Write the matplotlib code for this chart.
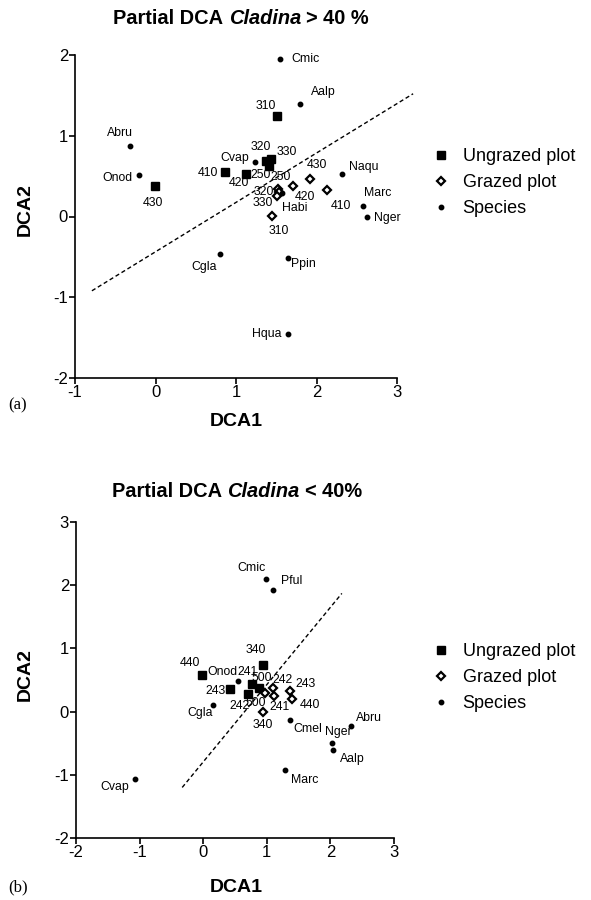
import matplotlib.pyplot as plt
from matplotlib.lines import Line2D

plt.rcParams['font.family'] = ['Liberation Sans', 'DejaVu Sans']
plt.rcParams['axes.unicode_minus'] = False

# ---- panel (a): Cladina > 40 % ----
a_ung_lab = ['310', '320', '330', '250', '410', '420', '430']
a_ung_x = [1.51, 1.37, 1.43, 1.41, 0.86, 1.13, -0.01]
a_ung_y = [1.24, 0.69, 0.71, 0.62, 0.55, 0.53, 0.38]
a_ung_off = [(-11, 10), (-5, 14), (16, 7), (-8, -9), (-17, -1), (-8, -9), (-2, -17)]

a_gra_lab = ['250', '320', '330', '310', '420', '430', '410']
a_gra_x = [1.52, 1.53, 1.51, 1.45, 1.71, 1.92, 2.13]
a_gra_y = [0.335, 0.30, 0.25, 0.01, 0.38, 0.47, 0.33]
a_gra_off = [(3, 12), (-15, 0), (-14, -7), (7, -15), (12, -11), (7, 14), (14, -16)]

a_sp_lab = ['Cmic', 'Aalp', 'Abru', 'Onod', 'Cvap', 'Naqu', 'Marc', 'Nger',
            'Habi', 'Cgla', 'Ppin', 'Hqua']
a_sp_x = [1.55, 1.80, -0.32, -0.21, 1.23, 2.32, 2.58, 2.63, 1.57, 0.80, 1.64, 1.64]
a_sp_y = [1.95, 1.39, 0.87, 0.52, 0.68, 0.53, 0.13, 0.00, 0.29, -0.46, -0.51, -1.45]
a_sp_off = [(25, 0), (23, 12), (-10, 13), (-21, -3), (-20, 4), (21, 7), (14, 13),
            (20, -1), (13, -15), (-16, -13), (16, -6), (-21, 0)]

a_line_x = [-0.79, 3.2]
a_line_y = [-0.92, 1.52]

# ---- panel (b): Cladina < 40 % ----
b_ung_lab = ['340', '440', '243', '241', '500', '242']
b_ung_x = [0.94, -0.02, 0.42, 0.76, 0.88, 0.70]
b_ung_y = [0.73, 0.58, 0.35, 0.43, 0.38, 0.28]
b_ung_off = [(-7, 15), (-12, 12), (-14, -2), (-4, 12), (3, 10), (-8, -12)]

b_gra_lab = ['242', '243', '440', '241', '500', '340']
b_gra_x = [1.105, 1.36, 1.40, 1.12, 0.97, 0.94]
b_gra_y = [0.374, 0.32, 0.20, 0.24, 0.30, 0.0]
b_gra_off = [(9, 8), (16, 7), (18, -6), (5, -11), (-9, -10), (0, -13)]

b_sp_lab = ['Cmic', 'Pful', 'Onod', 'Cgla', 'Cmel', 'Abru', 'Nger', 'Aalp',
            'Marc', 'Cvap']
b_sp_x = [0.99, 1.10, 0.54, 0.16, 1.36, 2.33, 2.03, 2.04, 1.29, -1.08]
b_sp_y = [2.10, 1.93, 0.48, 0.11, -0.13, -0.22, -0.49, -0.60, -0.93, -1.07]
b_sp_off = [(-15, 11), (19, 9), (-15, 9), (-13, -8), (18, -9), (18, 8), (6, 11),
            (19, -9), (19, -10), (-20, -8)]

b_line_x = [-0.33, 2.18]
b_line_y = [-1.2, 1.87]

fig = plt.figure(figsize=(5.91, 9), dpi=100)


def add_ax(left, top, right, bottom):
    return fig.add_axes([left / 591, 1 - bottom / 900,
                         (right - left) / 591, (bottom - top) / 900])


def label_points(ax, xs, ys, labs, offs):
    for x, y, s, (dx, dy) in zip(xs, ys, labs, offs):
        ax.annotate(s, (x, y), xytext=(dx, dy), textcoords='offset pixels',
                    ha='center', va='center', fontsize=8.8)


def panel(ax, ux, uy, ul, uo, gx, gy, gl, go, sx, sy, sl, so, lx, ly):
    ax.plot(lx, ly, ls=(0, (3, 2)), color='black', lw=1, clip_on=False)
    ax.plot(ux, uy, 's', color='black', ms=5.5, ls='none', clip_on=False)
    ax.plot(gx, gy, 'D', mfc='white', mec='black', mew=1.6, ms=4.5,
            ls='none', clip_on=False)
    ax.plot(sx, sy, 'o', color='black', ms=3.2, ls='none', clip_on=False)
    label_points(ax, ux, uy, ul, uo)
    label_points(ax, gx, gy, gl, go)
    label_points(ax, sx, sy, sl, so)
    for side in ['top', 'right']:
        ax.spines[side].set_visible(False)
    for side in ['left', 'bottom']:
        ax.spines[side].set_linewidth(1.2)
    ax.tick_params(direction='out', length=4, width=1.2, labelsize=12, pad=1)


ax1 = add_ax(75, 55, 397, 378)
panel(ax1, a_ung_x, a_ung_y, a_ung_lab, a_ung_off,
      a_gra_x, a_gra_y, a_gra_lab, a_gra_off,
      a_sp_x, a_sp_y, a_sp_lab, a_sp_off, a_line_x, a_line_y)
ax1.set_xlim(-1, 3)
ax1.set_ylim(-2, 2)
ax1.set_xticks([-1, 0, 1, 2, 3])
ax1.set_yticks([-2, -1, 0, 1, 2])

ax2 = add_ax(76, 522, 394, 838)
panel(ax2, b_ung_x, b_ung_y, b_ung_lab, b_ung_off,
      b_gra_x, b_gra_y, b_gra_lab, b_gra_off,
      b_sp_x, b_sp_y, b_sp_lab, b_sp_off, b_line_x, b_line_y)
ax2.set_xlim(-2, 3)
ax2.set_ylim(-2, 3)
ax2.set_xticks([-2, -1, 0, 1, 2, 3])
ax2.set_yticks([-2, -1, 0, 1, 2, 3])

# axis titles
fig.text(236 / 591, 1 - 421 / 900, 'DCA1', ha='center', va='center',
         fontsize=14, fontweight='bold')
fig.text(236 / 591, 1 - 887 / 900, 'DCA1', ha='center', va='center',
         fontsize=14, fontweight='bold')
fig.text(25 / 591, 1 - 210 / 900, 'DCA2', ha='center', va='center',
         fontsize=14, fontweight='bold', rotation=90)
fig.text(25 / 591, 1 - 675 / 900, 'DCA2', ha='center', va='center',
         fontsize=14, fontweight='bold', rotation=90)
fig.text(8 / 591, 1 - 405 / 900, '(a)', ha='left', va='center',
         fontsize=12, family='Liberation Serif')
fig.text(8 / 591, 1 - 887 / 900, '(b)', ha='left', va='center',
         fontsize=12, family='Liberation Serif')

# titles with bold-italic genus name
renderer = fig.canvas.get_renderer()


def mixed_title(xc, yc, parts):
    texts = []
    for s, style in parts:
        texts.append(fig.text(0, 1 - yc / 900, s, ha='left', va='center',
                              fontsize=14.4, fontweight='bold', style=style))
    gap = 5.5
    widths = [t.get_window_extent(renderer).width for t in texts]
    total = sum(widths) + gap * (len(texts) - 1)
    x = xc - total / 2
    for t, w in zip(texts, widths):
        t.set_x(x / 591)
        x += w + gap


mixed_title(241, 19, [('Partial DCA', 'normal'), ('Cladina', 'italic'),
                      ('> 40 %', 'normal')])
mixed_title(237, 492, [('Partial DCA', 'normal'), ('Cladina', 'italic'),
                       ('< 40%', 'normal')])

# legends
handles = [
    Line2D([], [], marker='s', color='black', ms=5.5, ls='none'),
    Line2D([], [], marker='D', mfc='white', mec='black', mew=1.6, ms=4.5, ls='none'),
    Line2D([], [], marker='o', color='black', ms=3.2, ls='none'),
]
names = ['Ungrazed plot', 'Grazed plot', 'Species']
for top in [148, 643]:
    fig.legend(handles, names, loc='upper left',
               bbox_to_anchor=(432 / 591, 1 - top / 900), frameon=False,
               fontsize=13, handlelength=1, handletextpad=0.7,
               labelspacing=0.5, borderpad=0, borderaxespad=0)

fig.savefig('out.png', dpi=100)
